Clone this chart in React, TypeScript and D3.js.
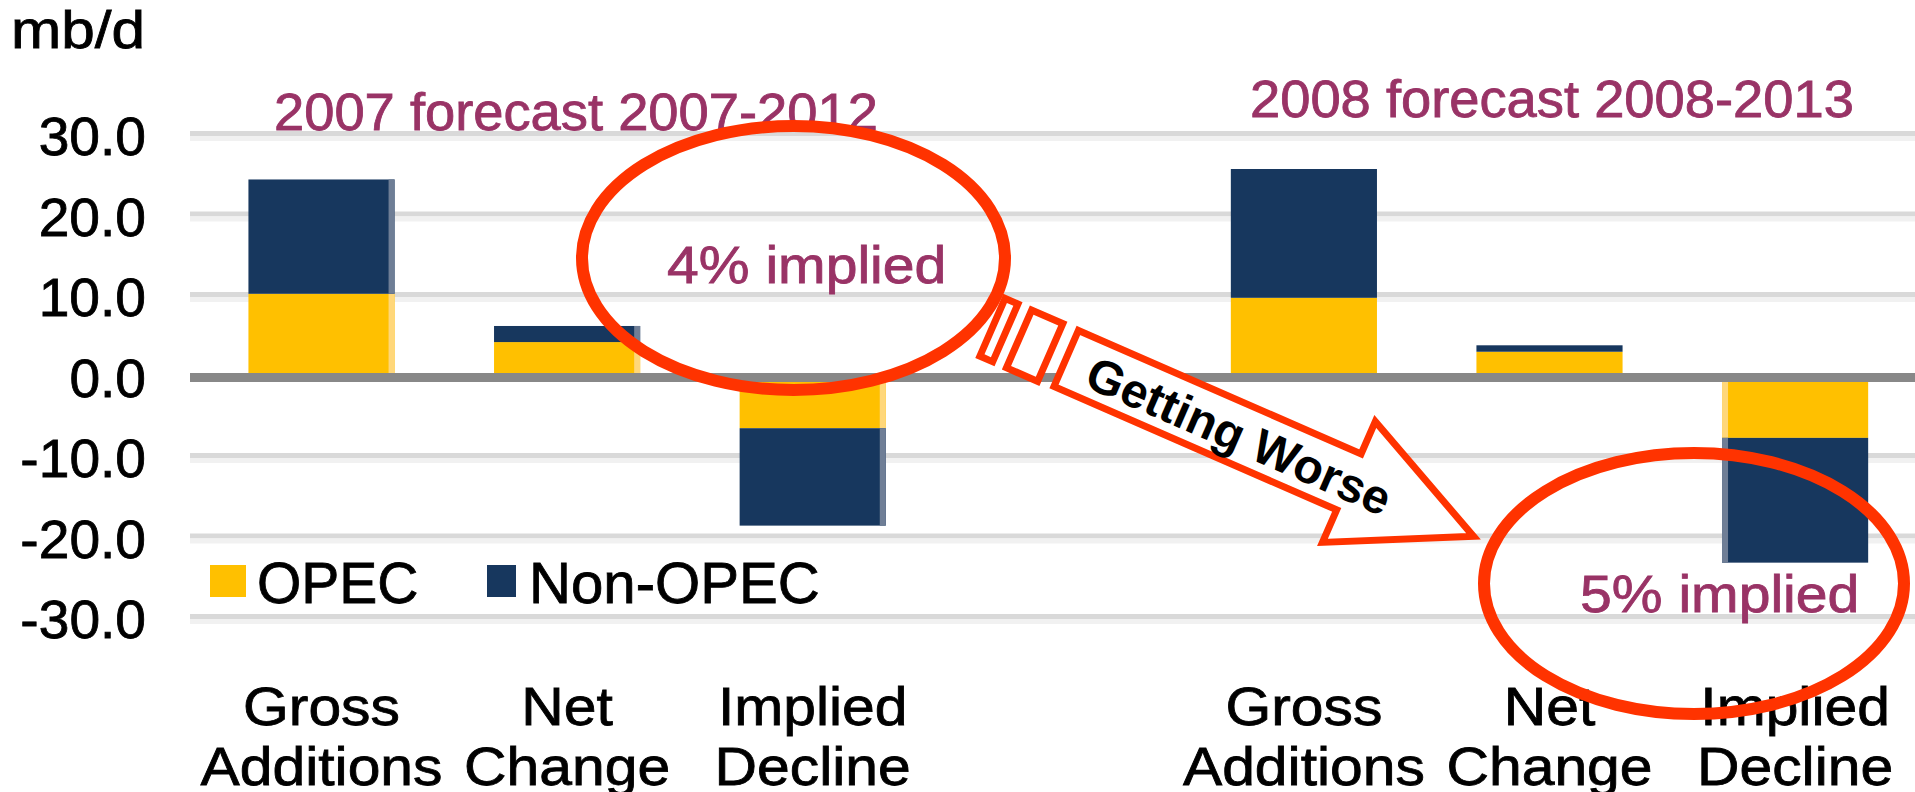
import React from "react";
import * as d3 from "d3";

// ---------- data ----------
const slots = ["g07", "n07", "d07", "gap", "g08", "n08", "d08"];
const labelLines: string[][] = [
  ["Gross", "Additions"],
  ["Net", "Change"],
  ["Implied", "Decline"],
  [],
  ["Gross", "Additions"],
  ["Net", "Change"],
  ["Implied", "Decline"],
];
const opec = [10.4, 4.4, -6.3, 0, 9.9, 3.2, -7.5];
const nonOpec = [14.2, 2.0, -12.1, 0, 16.0, 0.8, -15.5];
const yTicks = [30, 20, 10, 0, -10, -20, -30];
const seriesNames = ["OPEC", "Non-OPEC"];
const titles = ["2007 forecast 2007-2012", "2008 forecast 2008-2013"];
const impliedNotes = ["4% implied", "5% implied"];
const arrowText = "Getting Worse";
const unitLabel = "mb/d";

// ---------- style ----------
const W = 1915;
const H = 792;
const FONT = "'Liberation Sans', Arial, Helvetica, sans-serif";
const C_OPEC = "#FFC000";
const C_NON = "#17375E";
const C_OPEC_EDGE = "#FFD77A";
const C_NON_EDGE = "#6F7E96";
const C_TITLE = "#993366";
const C_RED = "#FF3300";
const edgeSide: (string | null)[] = ["right", "right", "right", null, null, null, "left"];

const fmt = d3.formatLocale({
  decimal: ".",
  thousands: ",",
  grouping: [3],
  currency: ["", ""],
  minus: "-",
}).format(".1f");

type TProps = {
  x: number;
  y: number;
  sx?: number;
  size: number;
  fill?: string;
  anchor?: "start" | "middle" | "end";
  weight?: number;
  children: React.ReactNode;
};

function T({ x, y, sx = 1, size, fill = "#000", anchor = "start", weight = 0.8, children }: TProps) {
  return (
    <text
      transform={`translate(${x},${y}) scale(${sx},1)`}
      fontSize={size}
      fill={fill}
      stroke={fill}
      strokeWidth={weight}
      textAnchor={anchor}
    >
      {children}
    </text>
  );
}

export default function App() {
  const x = d3
    .scaleBand<string>()
    .domain(slots)
    .range([198.7, 1917.9])
    .paddingInner(0.405)
    .paddingOuter(0.2025);
  const y = d3.scaleLinear().domain([-30, 30]).range([619, 136]);

  const rows = slots.map((s, i) => ({ slot: s, OPEC: opec[i], "Non-OPEC": nonOpec[i] }));
  const stack = d3.stack<any>().keys(seriesNames).offset(d3.stackOffsetDiverging);
  const layers = stack(rows);
  const colors = [C_OPEC, C_NON];
  const edgeColors = [C_OPEC_EDGE, C_NON_EDGE];

  const gx0 = 190;
  const gx1 = W;

  // arrow outline in its local frame (u along the arrow, n across it)
  const arrowPath = "M3.5,-30.5 L312,-30.5 L312,-66 L448,0 L312,66 L312,30.5 L3.5,30.5 Z";

  return (
    <svg
      width={W}
      height={H}
      viewBox={`0 0 ${W} ${H}`}
      style={{ position: "absolute", left: 0, top: 0, background: "#fff", display: "block" }}
      fontFamily={FONT}
    >
      <rect x={0} y={0} width={W} height={H} fill="#fff" />

      {/* gridlines */}
      {yTicks
        .filter((t) => t !== 0)
        .map((t) => (
          <g key={"g" + t}>
            <rect x={gx0} y={y(t) - 5} width={gx1 - gx0} height={5} fill="#D9D9D9" />
            <rect x={gx0} y={y(t)} width={gx1 - gx0} height={5} fill="#F1F1F1" />
          </g>
        ))}

      {/* bars */}
      {layers.map((layer, li) =>
        layer.map((d, i) => {
          const v0 = d[0];
          const v1 = d[1];
          if (v0 === v1) return null;
          const top = y(Math.max(v0, v1));
          const bot = y(Math.min(v0, v1));
          const bx = x(slots[i]) as number;
          const bw = x.bandwidth();
          const side = edgeSide[i];
          return (
            <g key={`b${li}-${i}`}>
              <rect x={bx} y={top} width={bw} height={bot - top} fill={colors[li]} />
              {side && (
                <rect
                  x={side === "right" ? bx + bw - 6 : bx}
                  y={top}
                  width={6}
                  height={bot - top}
                  fill={edgeColors[li]}
                />
              )}
            </g>
          );
        })
      )}

      {/* zero line */}
      <rect x={gx0} y={y(0) - 4.5} width={gx1 - gx0} height={9} fill="#888888" />

      {/* y tick labels */}
      {yTicks.map((t) => (
        <T key={"t" + t} x={146} y={y(t) + 19} size={53} sx={1.04} anchor="end">
          {fmt(t)}
        </T>
      ))}

      {/* unit */}
      <T x={11} y={48} size={52} sx={1.16}>
        {unitLabel}
      </T>

      {/* category labels */}
      {labelLines.map((lines, i) =>
        lines.map((ln, j) => (
          <T
            key={`c${i}-${j}`}
            x={(x(slots[i]) as number) + x.bandwidth() / 2}
            y={725 + j * 60}
            size={53}
            sx={1.11}
            anchor="middle"
          >
            {ln}
          </T>
        ))
      )}

      {/* legend */}
      <rect x={210} y={565} width={36} height={32} fill={C_OPEC} />
      <T x={257} y={603} size={57} sx={1.0}>
        {seriesNames[0]}
      </T>
      <rect x={487} y={565} width={29} height={32} fill={C_NON} />
      <T x={529} y={603} size={57} sx={1.02}>
        {seriesNames[1]}
      </T>

      {/* titles */}
      <T x={274} y={130} size={51} sx={1.065} fill={C_TITLE}>
        {titles[0]}
      </T>
      <T x={1250} y={117} size={51} sx={1.065} fill={C_TITLE}>
        {titles[1]}
      </T>

      {/* implied notes */}
      <T x={667} y={283} size={51} sx={1.12} fill={C_TITLE}>
        {impliedNotes[0]}
      </T>
      <T x={1580} y={612} size={51} sx={1.12} fill={C_TITLE}>
        {impliedNotes[1]}
      </T>

      {/* arrow */}
      <g transform="translate(1063,357) rotate(23.6)">
        <rect x={-76.5} y={-30.5} width={14} height={63} fill="#fff" stroke={C_RED} strokeWidth={7} />
        <rect x={-47.5} y={-30.5} width={34} height={63} fill="#fff" stroke={C_RED} strokeWidth={7} />
        <path
          d={arrowPath}
          fill="#fff"
          stroke={C_RED}
          strokeWidth={7}
          strokeLinejoin="miter"
          strokeMiterlimit={10}
        />
        <text
          x={193}
          y={2}
          dominantBaseline="central"
          textAnchor="middle"
          fontSize={48}
          fontWeight="bold"
          fill="#000"
        >
          {arrowText}
        </text>
      </g>

      {/* ellipses */}
      <ellipse cx={793.5} cy={258} rx={211.5} ry={132} fill="none" stroke={C_RED} strokeWidth={12} />
      <ellipse cx={1694} cy={583.5} rx={210} ry={130.5} fill="none" stroke={C_RED} strokeWidth={12} />
    </svg>
  );
}
